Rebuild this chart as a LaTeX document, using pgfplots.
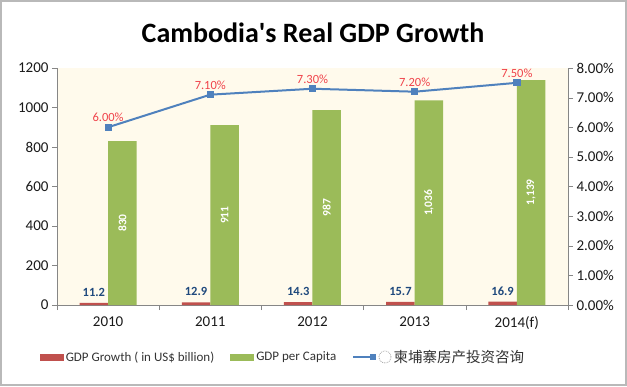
\documentclass[border=0pt]{standalone}
\usepackage{pgfplots}
\pgfplotsset{compat=1.18}
\usepackage{fontspec}
\setmainfont{Carlito}[Ligatures=TeXOff]
\newfontfamily\cjk{Noto Sans CJK SC}
\definecolor{barred}{HTML}{C0504D}
\definecolor{bargreen}{HTML}{9BBB59}
\definecolor{lineblue}{HTML}{4F81BD}
\definecolor{lblblue}{HTML}{1F497D}
\definecolor{lblred}{HTML}{F0424A}
\definecolor{bgcream}{HTML}{FFFAEC}
\definecolor{axgray}{HTML}{868686}
\begin{document}
\begin{tikzpicture}
\useasboundingbox (0,0) rectangle (627pt,386pt);
\draw[line width=2pt, gray!55] (1pt,1pt) rectangle (626pt,385pt);
\node[font=\bfseries\fontsize{28}{32}\selectfont] at (313pt,353pt) {Cambodia's Real GDP Growth};
\pgfplotsset{common/.style={scale only axis, width=511pt, height=237pt,
  at={(57pt,81pt)}, anchor=south west, xmin=-0.5, xmax=4.5,
  /pgf/number format/assume math mode=true,
  /pgf/number format/1000 sep={},
  ticklabel style={font=\fontsize{15}{17}\selectfont, text=black!90},
  tick align=outside, major tick length=5pt}}
% main axis: bars
\begin{axis}[common, ymin=0, ymax=1200, ytick={0,200,...,1200},
  ybar=0pt, bar width=28.5pt,
  axis background/.style={fill=bgcream},
  axis x line*=bottom, axis y line*=left, axis line style={axgray,-},
  xtick={-0.5,0.5,...,4.5}, xticklabels={},
  tick style={axgray},
  legend columns=3,
  legend style={at={(-0.04,-0.22)}, anchor=west, draw=none, fill=none,
    font=\fontsize{13}{15}\selectfont, text=black!80,
    /tikz/every even column/.append style={column sep=14pt}},
  ]
\addplot[fill=barred, draw=none,
  legend image code/.code={\fill[barred] (0pt,-3.5pt) rectangle (24pt,3.5pt);},
  nodes near coords, point meta=explicit symbolic,
  every node near coord/.append style={text=lblblue, font=\bfseries\fontsize{12.5}{14}\selectfont, yshift=3pt}]
  coordinates {(0,11.2)[11.2] (1,12.9)[12.9] (2,14.3)[14.3] (3,15.7)[15.7] (4,16.9)[16.9]};
\addlegendentry{GDP Growth ( in US\$ billion)}
\addplot[fill=bargreen, draw=none,
  legend image code/.code={\fill[bargreen] (0pt,-3.5pt) rectangle (24pt,3.5pt);}]
  coordinates {(0,830) (1,911) (2,987) (3,1036) (4,1139)};
\addlegendentry{GDP per Capita}
\addlegendimage{legend image code/.code={\draw[lineblue, line width=2pt] (0pt,0pt) -- (20pt,0pt);
  \fill[lineblue] (17pt,-2.5pt) rectangle (22pt,2.5pt);}}
\addlegendentry{}
\end{axis}
% labels axis
\begin{axis}[common, ymin=0, ymax=1200, axis y line=none, axis x line*=bottom,
  axis line style={draw=none}, xtick={0,...,4},
  xticklabels={2010,2011,2012,2013,2014(f)}, xtick style={draw=none}, ytick=\empty,
  xticklabel style={yshift=-3pt}]
\addplot[only marks, mark=none, nodes near coords, point meta=explicit symbolic,
  every node near coord/.append style={rotate=90, anchor=center, text=white,
  font=\bfseries\fontsize{11.5}{13}\selectfont}]
  coordinates {(0.14,415)[830] (1.14,455)[911] (2.14,493)[987] (3.14,518)[1,036] (4.14,570)[1,139]};
\end{axis}
% line axis
\begin{axis}[common, ymin=0, ymax=8, ytick={0,1,...,8},
  yticklabel={\pgfmathprintnumber[fixed,fixed zerofill,precision=2]{\tick}\%},
  axis y line*=right, axis x line=none, axis line style={axgray,-},
  tick style={axgray}]
\addplot[lineblue, line width=2pt, mark=square*, mark size=2.6pt,
  nodes near coords, point meta=explicit symbolic,
  every node near coord/.append style={text=lblred, font=\fontsize{12.5}{14}\selectfont, yshift=1pt}]
  coordinates {(0,6.0)[6.00\%] (1,7.1)[7.10\%] (2,7.3)[7.30\%] (3,7.2)[7.20\%] (4,7.5)[7.50\%]};
\end{axis}
\draw[gray!70, densely dotted, line width=0.8pt] (385pt,29pt) circle (6pt);
\node[font=\cjk\fontsize{14.5}{16}\selectfont, text=black!80, anchor=west] at (390pt,29pt) {柬埔寨房产投资咨询};
\end{tikzpicture}
\end{document}
